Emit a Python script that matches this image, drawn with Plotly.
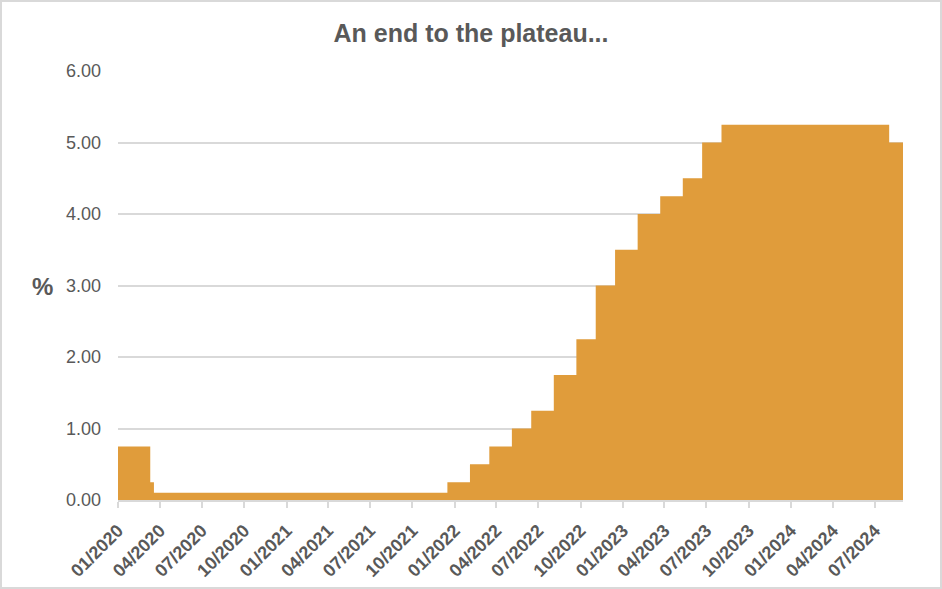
import plotly.graph_objects as go

change_dates = ["2020-01-01", "2020-03-11", "2020-03-19", "2021-12-16", "2022-02-03",
                "2022-03-17", "2022-05-05", "2022-06-16", "2022-08-04", "2022-09-22",
                "2022-11-03", "2022-12-15", "2023-02-02", "2023-03-23", "2023-05-11",
                "2023-06-22", "2023-08-03", "2024-08-01", "2024-08-31"]
rates = [0.75, 0.25, 0.10, 0.25, 0.50, 0.75, 1.00, 1.25, 1.75, 2.25,
         3.00, 3.50, 4.00, 4.25, 4.50, 5.00, 5.25, 5.00, 5.00]

title_text = "An end to the plateau..."
y_label = "%"

W, H = 942, 589
L, R, T, B = 118, 39, 71, 89
pw, ph = W - L - R, H - T - B

grey = "#595959"
fill_col = "#E09C3B"
font_fam = "Liberation Sans, Arial"

fig = go.Figure()
fig.add_trace(go.Scatter(
    x=change_dates, y=rates, mode="lines", line_shape="hv",
    line=dict(color=fill_col, width=0), fill="tozeroy", fillcolor=fill_col,
    hoverinfo="x+y"))

fig.update_layout(
    width=W, height=H,
    margin=dict(l=L, r=R, t=T, b=B),
    paper_bgcolor="white", plot_bgcolor="white",
    showlegend=False,
    title=dict(text=title_text, x=0.5, xanchor="center", y=1 - 33 / H, yanchor="middle",
               font=dict(family=font_fam, size=25, color=grey, weight="bold")),
    font=dict(family=font_fam, color=grey),
    xaxis=dict(
        type="date", range=["2020-01-01", "2024-08-31"], automargin=False,
        tickformat="%m/%Y", dtick="M3", tick0="2020-01-01", tickangle=-45,
        showgrid=False, showline=True, linecolor="#d9d9d9", linewidth=2,
        ticks="outside", tickcolor="#d9d9d9", ticklen=6, tickwidth=2,
        ticklabelstandoff=5,
        tickfont=dict(family=font_fam, size=18, color=grey, weight="bold"), zeroline=False),
    yaxis=dict(
        range=[0, 6], dtick=1, tickformat=".2f", automargin=False,
        showgrid=True, gridcolor="#d9d9d9", gridwidth=2, zeroline=False,
        showline=False, ticks="", ticklabelstandoff=16,
        tickfont=dict(family=font_fam, size=18, color=grey)),
    shapes=[dict(type="rect", xref="paper", yref="paper",
                 x0=-(L - 1) / pw, x1=1 + (R - 1) / pw,
                 y0=-(B - 1) / ph, y1=1 + (T - 1) / ph,
                 line=dict(color="#d9d9d9", width=2), fillcolor="rgba(0,0,0,0)", layer="below")],
    annotations=[dict(text=y_label, xref="paper", yref="paper",
                      x=-(L - 42) / pw, y=(500 - 286) / ph, xanchor="center", yanchor="middle",
                      showarrow=False, font=dict(family=font_fam, size=24, color=grey, weight="bold"))],
)

fig.write_html("out.html", config={"displayModeBar": False},
               post_script="document.body.style.margin='0';document.body.style.padding='0';")
